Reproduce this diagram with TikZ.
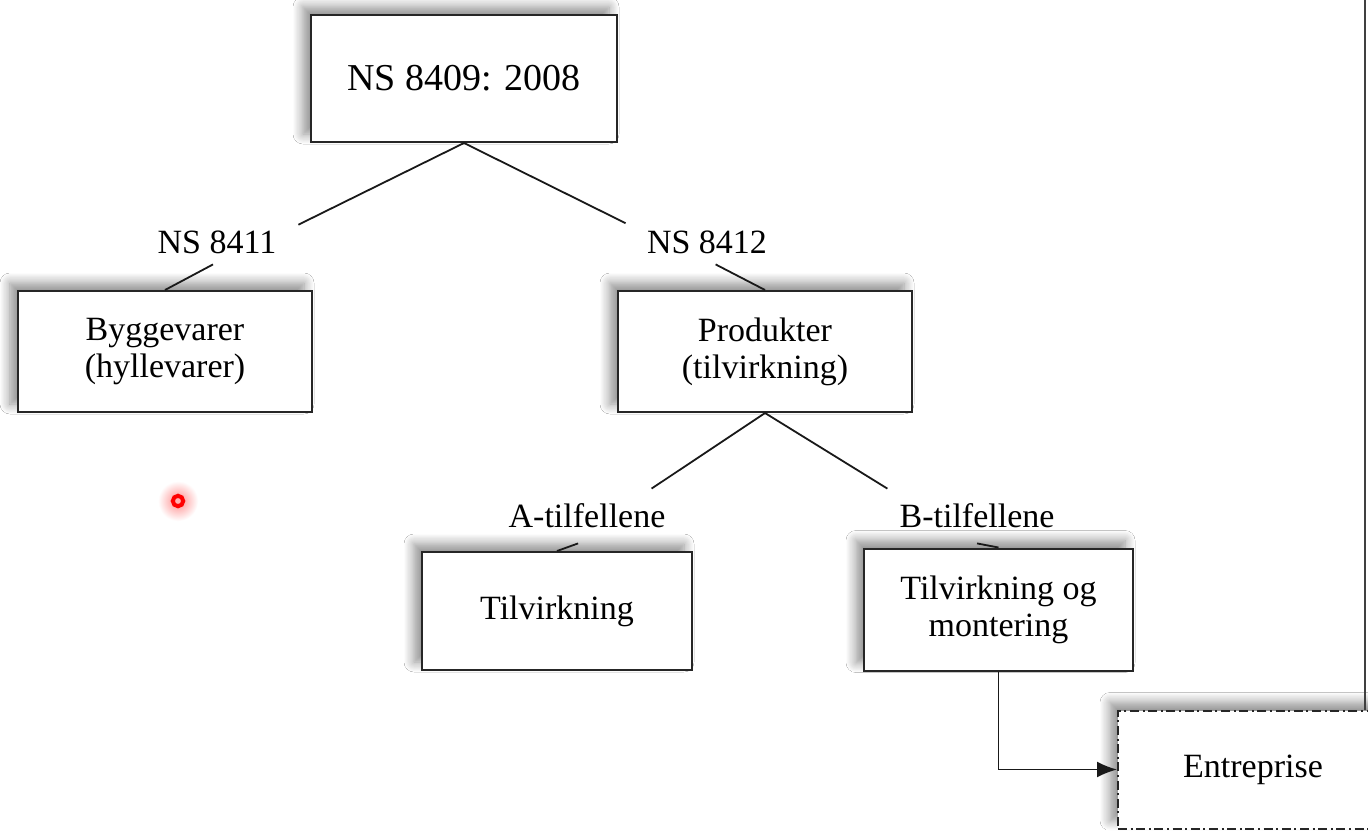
\documentclass[tikz,border=0pt]{standalone}
\usepackage{fontspec}
\setmainfont{Liberation Serif}
\usetikzlibrary{shadows.blur,arrows.meta}
\begin{document}
\begin{tikzpicture}[x=0.5pt,y=-0.5pt,
  box/.style={draw=black!85, line width=1pt, fill=white, inner sep=0pt, align=center,
    font=\fontsize{17}{18.5}\selectfont,
    blur shadow={shadow xshift=-4pt, shadow yshift=4pt, shadow blur radius=5pt, shadow opacity=45, shadow blur steps=10}},
  lbl/.style={inner sep=0pt, minimum width=81pt, minimum height=22pt, font=\fontsize{17}{18}\selectfont},
  lblb/.style={lbl, minimum width=90pt, minimum height=27pt},
  conn/.style={draw=black!90, line width=0.9pt}]
\useasboundingbox (0,0) rectangle (1368,830);
\fill[white] (0,0) rectangle (1368,830);

% boxes
\node[box, minimum width=153pt, minimum height=63.5pt, font=\fontsize{19}{20}\selectfont] (top) at (464,78.5) {NS 8409: 2008};
\node[box, minimum width=147pt, minimum height=60.5pt] (bygg) at (165,351.5) {Byggevarer\\(hyllevarer)};
\node[box, minimum width=147pt, minimum height=60.5pt] (prod) at (765,351.5) {Produkter\\(tilvirkning)};
\node[box, minimum width=135pt, minimum height=59pt] (tilv) at (557,611) {Tilvirkning};
\node[box, minimum width=134.5pt, minimum height=61pt] (tom) at (998.5,609.5) {Tilvirkning og\\montering};
\node[box, minimum width=135pt, minimum height=59pt,
  dash pattern=on 4.5pt off 1.8pt on 1pt off 1.8pt] (ent) at (1253,769.5) {Entreprise};

% labels
\node[lbl] (l1) at (217,242) {NS 8411};
\node[lbl] (l2) at (707,242) {NS 8412};
\node[lblb] (la) at (587,516) {A-tilfellene};
\node[lblb] (lb) at (977,516) {B-tilfellene};

% connectors
\draw[conn] (top.south) -- (l1.12);
\draw[conn] (top.south) -- (l2.167);
\draw[conn] (l1.-100) -- (bygg.north);
\draw[conn] (l2.-69) -- (prod.north);
\draw[conn] (prod.south) -- (la.23);
\draw[conn] (prod.south) -- (lb.163);
\draw[conn] (la.-108) -- (tilv.north);
\draw[conn] (lb.south) -- (tom.north);
\draw[conn, -{Latex[length=10pt,width=8pt]}] (tom.south) |- (ent.west);

% right edge line
\coordinate (edgetop) at (1365,0);
\draw[line width=1.3pt, black!75] (edgetop) -- (edgetop |- ent.north);

% red pointer dot
\shade[inner color=red!45, outer color=white] (178,501) circle (10pt);
\fill[red!30] (178,501) circle (2.5pt);
\draw[red, line width=2pt] (178,501) circle (2.6pt);
\end{tikzpicture}
\end{document}
